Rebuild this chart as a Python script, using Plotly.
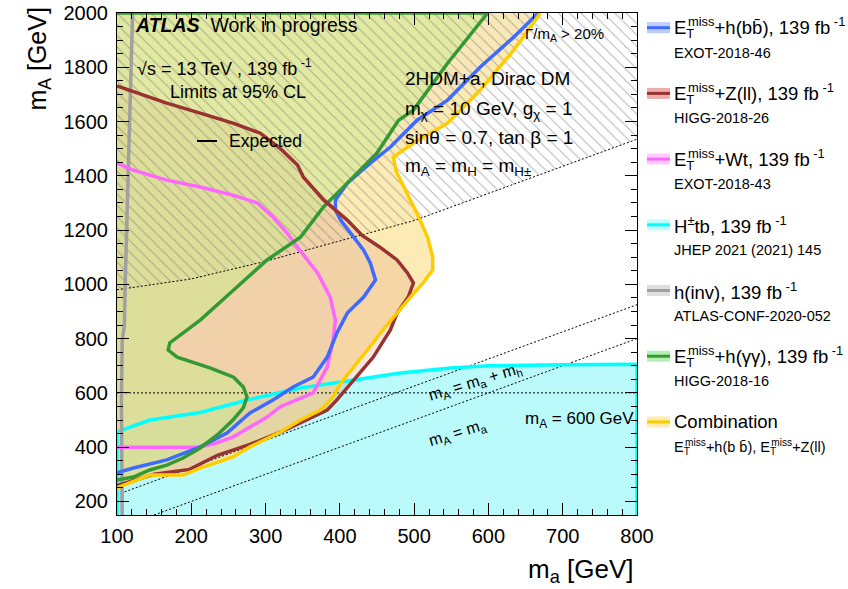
import plotly.graph_objects as go

FONT = "Liberation Sans, Arial, Helvetica, sans-serif"

# ---------------- exclusion contours, (m_a, m_A) in GeV ----------------
# E_T^miss + h(bb)
bb_ma = [667, 634, 589, 545, 504, 468, 441, 410, 394, 394, 401, 414, 432, 441, 448,
         432, 410, 396, 383, 364, 337, 310, 279, 248, 212, 167, 122, 100]
bb_mA = [2000, 1911, 1801, 1679, 1605, 1506, 1447, 1373, 1311, 1274, 1237, 1189, 1126, 1079, 1016,
         953, 894, 821, 732, 658, 622, 574, 526, 452, 401, 353, 323, 305]

# E_T^miss + Z(ll)
zll_ma = [100, 167, 212, 256, 293, 320, 343, 351, 378, 410, 430, 454, 477, 491, 499,
          492, 477, 468, 445, 427, 410, 396, 383, 356, 329, 279, 235, 198, 150, 100]
zll_mA = [1731, 1668, 1631, 1594, 1557, 1500, 1440, 1395, 1311, 1237, 1180, 1137, 1090, 1042, 1005,
          953, 894, 832, 732, 673, 622, 574, 537, 500, 466, 410, 370, 318, 300, 258]

# E_T^miss + Wt
wt_ma = [100, 122, 167, 212, 256, 289, 310, 329, 343, 356, 370, 387, 394, 391, 383,
         364, 340, 320, 302, 280, 256, 230, 210, 100]
wt_mA = [1447, 1421, 1384, 1359, 1329, 1300, 1248, 1189, 1137, 1090, 1042, 953, 868, 795, 695,
         600, 572, 549, 511, 475, 437, 412, 400, 400]

# H+- tb
htb_ma = [100, 100, 144, 212, 275, 347, 401, 481, 549, 600, 700, 800, 800, 100]
htb_mA = [150, 456, 500, 528, 574, 618, 640, 673, 692, 700, 704, 706, 150, 150]

# h(inv)
hinv_ma = [107, 106, 106, 107, 110, 111, 113, 116, 118, 121]
hinv_mA = [150, 420, 560, 790, 850, 1000, 1200, 1430, 1700, 2000]

# E_T^miss + h(gamma gamma)
gg_ma = [100, 599, 545, 499, 479, 450, 410, 378, 347, 302, 257, 212, 171, 169, 181, 225,
         257, 270, 275, 270, 256, 235, 212, 189, 167, 144, 122, 100]
gg_mA = [2000, 2000, 1815, 1642, 1605, 1484, 1373, 1285, 1174, 1090, 979, 868, 784, 758, 732, 692,
         658, 622, 585, 545, 500, 445, 397, 360, 334, 316, 290, 279]

# Combination (bb + Z(ll))
comb_ma = [670, 634, 589, 545, 499, 472, 476, 491, 505, 518, 525, 525, 512, 495, 472,
           458, 437, 418, 401, 391, 374, 347, 320, 279, 256, 212, 189, 144, 100]
comb_mA = [2000, 1863, 1716, 1594, 1521, 1469, 1415, 1330, 1255, 1174, 1100, 1053, 1005, 953, 880,
           832, 758, 695, 636, 585, 537, 500, 456, 401, 364, 323, 297, 297, 250]

# Boundary of the large-width region (Gamma_A / m_A > 20 %)
gam_ma = [100, 200, 300, 400, 500, 600, 700, 800]
gam_mA = [980, 1020, 1085, 1160, 1235, 1335, 1435, 1535]

# kinematic reference lines
mh = 125
ref_ma = [100, 800]

# legend text (E_T^miss written with the T tucked under "miss")
ET = "E<sub><span style='letter-spacing:-6.3px'>T</span></sub><sup>miss</sup>"
ET_SMALL = "E<sub><span style='letter-spacing:-4.8px'>T</span></sub><sup>miss</sup>"
leg_titles = [
    ET + "+h(bb\u0304), 139 fb<sup> -1</sup>",
    ET + "+Z(ll), 139 fb<sup> -1</sup>",
    ET + "+Wt, 139 fb<sup> -1</sup>",
    "H<sup>\u00b1</sup>tb, 139 fb<sup> -1</sup>",
    "h(inv), 139 fb<sup> -1</sup>",
    ET + "+h(\u03b3\u03b3), 139 fb<sup> -1</sup>",
    "Combination",
]
leg_refs = ["EXOT-2018-46", "HIGG-2018-26", "EXOT-2018-43", "JHEP 2021 (2021) 145",
            "ATLAS-CONF-2020-052", "HIGG-2018-16",
            ET_SMALL + "+h(b b\u0304), " + ET_SMALL + "+Z(ll)"]

# colours: (line, legend band, region fill)
BLUE = ("#3d6bff", "rgb(190,205,255)", "rgba(140,160,255,0.04)")
BROWN = ("#993333", "rgb(236,172,172)", "rgba(225,148,112,0.24)")
MAGENTA = ("#ff66ff", "rgb(255,205,255)", "rgba(255,150,255,0.03)")
CYAN = ("#00ffff", "rgb(190,255,255)", "rgb(186,250,250)")
GRAY = ("#a0a0a0", "rgb(222,222,222)", "rgba(200,200,200,0.5)")
GREEN = ("#339933", "rgb(180,240,180)", "rgba(203,236,141,0.5)")
YELLOW = ("#ffcc00", "rgb(255,236,180)", "rgba(252,226,150,0.7)")
leg_colors = [BLUE, BROWN, MAGENTA, CYAN, GRAY, GREEN, YELLOW]

# ---------------- plot geometry (pixels) ----------------
W, H = 848, 589
ML, MR, MT, MB = 117, 211, 13, 74
PW, PH = W - ML - MR, H - MT - MB


def X(px):
    return (px - ML) / PW


def Y(py):
    return (H - MB - py) / PH


fig = go.Figure()


def add_fill(xs, ys, color, close_left=True):
    if close_left:
        xs = list(xs) + [100]
        ys = list(ys) + [2000 if ys[0] >= 1999 else ys[0]]
    fig.add_trace(go.Scatter(x=xs, y=ys, fill="toself", fillcolor=color, mode="none",
                             hoverinfo="skip", showlegend=False))


def add_line(xs, ys, color, width=3.5, dash="solid"):
    fig.add_trace(go.Scatter(x=xs, y=ys, mode="lines",
                             line=dict(color=color, width=width, dash=dash),
                             hoverinfo="skip", showlegend=False))


# filled excluded regions
add_fill(htb_ma, htb_mA, CYAN[2], close_left=False)
add_fill(hinv_ma + [100, 100], hinv_mA + [2000, 150], GRAY[2], close_left=False)
add_fill(comb_ma, comb_mA, YELLOW[2])
add_fill(zll_ma, zll_mA, BROWN[2])
add_fill(bb_ma, bb_mA, BLUE[2])
add_fill(wt_ma, wt_mA, MAGENTA[2])
add_fill(gg_ma, gg_mA, GREEN[2])

# hatched large-width region
fig.add_trace(go.Scatter(
    x=gam_ma + [800, 100], y=gam_mA + [2000, 2000], fill="toself",
    fillcolor="rgba(0,0,0,0)", mode="none", hoverinfo="skip", showlegend=False,
    fillpattern=dict(shape="\\", fgcolor="rgb(115,115,115)", bgcolor="rgba(0,0,0,0)",
                     size=8, solidity=0.14),
))

# dotted reference lines
DOT = "2px,2px"
add_line(gam_ma, gam_mA, "black", 1, DOT)
add_line(ref_ma, [m + mh for m in ref_ma], "black", 1, DOT)
add_line([150, 800], [150, 800], "black", 1, DOT)
add_line(ref_ma, [600, 600], "black", 1, DOT)

# contour lines
add_line(htb_ma[:-1], htb_mA[:-1], CYAN[0])
add_line(hinv_ma, hinv_mA, GRAY[0])
add_line(wt_ma, wt_mA, MAGENTA[0])
add_line(bb_ma, bb_mA, BLUE[0])
add_line(gg_ma, gg_mA, GREEN[0])
add_line(zll_ma, zll_mA, BROWN[0])
add_line(comb_ma, comb_mA, YELLOW[0])

annotations = []
shapes = []


def text(px, py, s, size, xanchor="left", yanchor="middle", angle=0):
    annotations.append(dict(
        x=X(px), y=Y(py), xref="paper", yref="paper", text=s, showarrow=False,
        xanchor=xanchor, yanchor=yanchor, textangle=angle,
        font=dict(family=FONT, size=size, color="black")))


# labels inside the frame
text(133, 25, "<b><i>ATLAS</i></b>  Work in progress", 19.5)
text(135, 67, "\u221as = 13 TeV , 139 fb<sup> -1</sup>", 18)
text(168, 92, "Limits at 95% CL", 18)
shapes.append(dict(type="line", xref="paper", yref="paper", x0=X(197), x1=X(217),
                   y0=Y(141), y1=Y(141), line=dict(color="black", width=2)))
text(227, 141, "Expected", 17.5)
text(523, 35, "\u0393/m<sub>A</sub> > 20%", 15)
text(403, 78, "2HDM+a, Dirac DM", 19)
text(403, 110, "m<sub>\u03c7</sub> = 10 GeV, g<sub>\u03c7</sub> = 1", 19)
text(403, 137, "sin\u03b8 = 0.7, tan \u03b2 = 1", 19)
text(403, 167, "m<sub>A</sub> = m<sub>H</sub> = m<sub>H\u00b1</sub>", 19)
text(475, 382, "m<sub>A</sub> = m<sub>a</sub> + m<sub>h</sub>", 16, xanchor="center", angle=-17)
text(457, 433, "m<sub>A</sub> = m<sub>a</sub>", 16, xanchor="center", angle=-17)
text(523, 420, "m<sub>A</sub> = 600 GeV", 17)

# axis titles
text(38, 6, "m<sub>A</sub> [GeV]", 25, xanchor="center", yanchor="top", angle=-90)
text(636, 570, "m<sub>a</sub> [GeV]", 26, xanchor="right")

# legend
for i, (title, ref, col) in enumerate(zip(leg_titles, leg_refs, leg_colors)):
    yl = 27.7 + 65.7 * i
    shapes.append(dict(type="rect", xref="paper", yref="paper", x0=X(647), x1=X(670),
                       y0=Y(yl + 5.5), y1=Y(yl - 5.5), fillcolor=col[1], line=dict(width=0)))
    shapes.append(dict(type="line", xref="paper", yref="paper", x0=X(647), x1=X(670),
                       y0=Y(yl), y1=Y(yl), line=dict(color=col[0], width=3)))
    text(672, yl, title, 18.5)
    text(672, yl + 25, ref, 14.5)

axis_common = dict(
    showline=True, linecolor="black", linewidth=1, mirror="allticks",
    ticks="inside", ticklen=12, tickwidth=1, tickcolor="black",
    showgrid=False, zeroline=False, automargin=False,
    tickfont=dict(family=FONT, size=20, color="black"),
)
fig.update_xaxes(range=[100, 800], tickmode="linear", tick0=100, dtick=100,
                 minor=dict(dtick=20, ticks="inside", ticklen=6, tickcolor="black"),
                 ticklabelstandoff=3, **axis_common)
fig.update_yaxes(range=[150, 2000], tickmode="linear", tick0=200, dtick=200,
                 minor=dict(dtick=50, ticks="inside", ticklen=6, tickcolor="black"),
                 ticklabelstandoff=4, **axis_common)

fig.update_layout(
    width=W, height=H,
    margin=dict(l=ML, r=MR, t=MT, b=MB, pad=0, autoexpand=False),
    paper_bgcolor="white", plot_bgcolor="white",
    showlegend=False,
    annotations=annotations, shapes=shapes,
    font=dict(family=FONT),
)

fig.write_html("out.html")
